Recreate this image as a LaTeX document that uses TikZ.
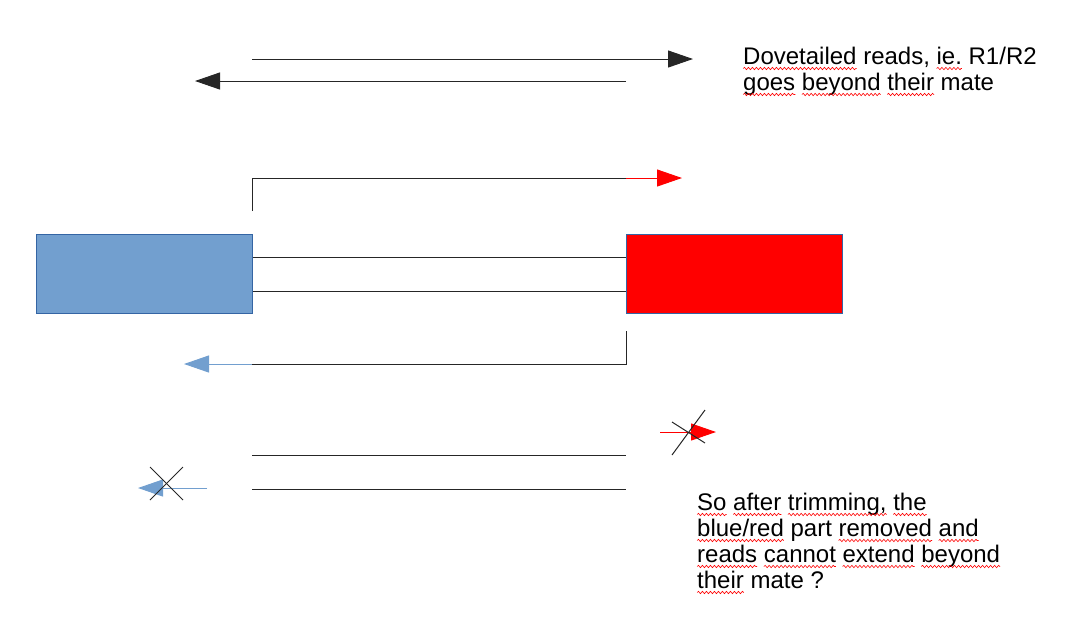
\documentclass[tikz,border=0pt]{standalone}
\usepackage{fontspec}
\setmainfont{Liberation Sans}
\usetikzlibrary{arrows.meta,decorations.pathmorphing}
\newlength\sqlen
\newcommand\sq[1]{\settowidth\sqlen{#1}\leavevmode\rlap{#1}\tikz[baseline=0pt]{\useasboundingbox (0pt,0pt) rectangle (\sqlen,0pt);\draw[red, line width=0.6pt, decorate, decoration={snake, amplitude=1.2pt, segment length=4pt}] (0pt,-4.5pt) -- (\sqlen,-4.5pt);}}
\definecolor{lblue}{HTML}{729FCF}
\definecolor{dblue}{HTML}{3465A4}
\begin{document}
\begin{tikzpicture}[x=1pt,y=-1pt,
  line/.style={line width=1pt, draw=black!85},
  head/.style={-{Triangle[length=25pt,width=17pt]}},
  box/.style={draw=dblue, line width=0.8pt, minimum width=216pt, minimum height=79pt, inner sep=0pt, anchor=north west},
  note/.style={font=\fontsize{24}{26}\selectfont, align=left, anchor=base west, inner sep=0pt}]
\useasboundingbox (0,0) rectangle (1085,633);
% boxes
\node[box, fill=lblue] (blue) at (36,234) {};
\node[box, fill=red] (redb) at (626,234) {};
\draw[line] (blue.east |- 0,257) -- (redb.west |- 0,257);
\draw[line] (blue.east |- 0,291) -- (redb.west |- 0,291);
% top arrows
\coordinate (t1s) at (252,59);
\coordinate (t1e) at (693,59);
\coordinate (t2s) at (626,81);
\coordinate (t2e) at (195,81);
\draw[line, head] (t1s) -- (t1e);
\draw[line, head] (t2s) -- (t2e);
% red bracket arrow
\coordinate (r0) at (252,211);
\coordinate (r1) at (626,178);
\coordinate (r2) at (682,178);
\draw[line] (r0) |- (r1);
\draw[red, line width=1pt, head] (r1) -- (r2);
% blue bracket arrow
\coordinate (b0) at (626,331);
\coordinate (b1) at (252,364);
\coordinate (b2) at (184,364);
\draw[line] (b0) |- (b1);
\draw[lblue, line width=1pt, head] (b1) -- (b2);
% bottom lines
\coordinate (l1s) at (252,455); \coordinate (l1e) at (626,455);
\coordinate (l2s) at (252,489); \coordinate (l2e) at (626,489);
\draw[line] (l1s) -- (l1e);
\draw[line] (l2s) -- (l2e);
% crossed arrows
\coordinate (cr0) at (660,432); \coordinate (cr1) at (716,432);
\draw[red, line width=1pt, head] (cr0) -- (cr1);
\coordinate (xa) at (672,455); \coordinate (xb) at (705,410);
\coordinate (xc) at (672,422); \coordinate (xd) at (705,443);
\draw[line] (xa) -- (xb);
\draw[line] (xc) -- (xd);
\coordinate (cb0) at (207,488); \coordinate (cb1) at (138,488);
\draw[lblue, line width=1pt, head] (cb0) -- (cb1);
\coordinate (ya) at (150,467); \coordinate (yb) at (183,500);
\coordinate (yc) at (183,467); \coordinate (yd) at (150,500);
\draw[line] (ya) -- (yb);
\draw[line] (yc) -- (yd);
% notes (base anchor = last line's baseline)
\node[note] (t1) at (743,90) {\sq{Dovetailed} reads, \sq{ie.} R1/R2\\ \sq{goes} \sq{beyond} \sq{their} mate};
\node[note] (t2) at (697,588) {\sq{So} \sq{after} \sq{trimming,} \sq{the}\\ \sq{blue/red} part \sq{removed} \sq{and}\\ \sq{reads} \sq{cannot} \sq{extend} \sq{beyond}\\ \sq{their} mate ?};
\end{tikzpicture}
\end{document}
